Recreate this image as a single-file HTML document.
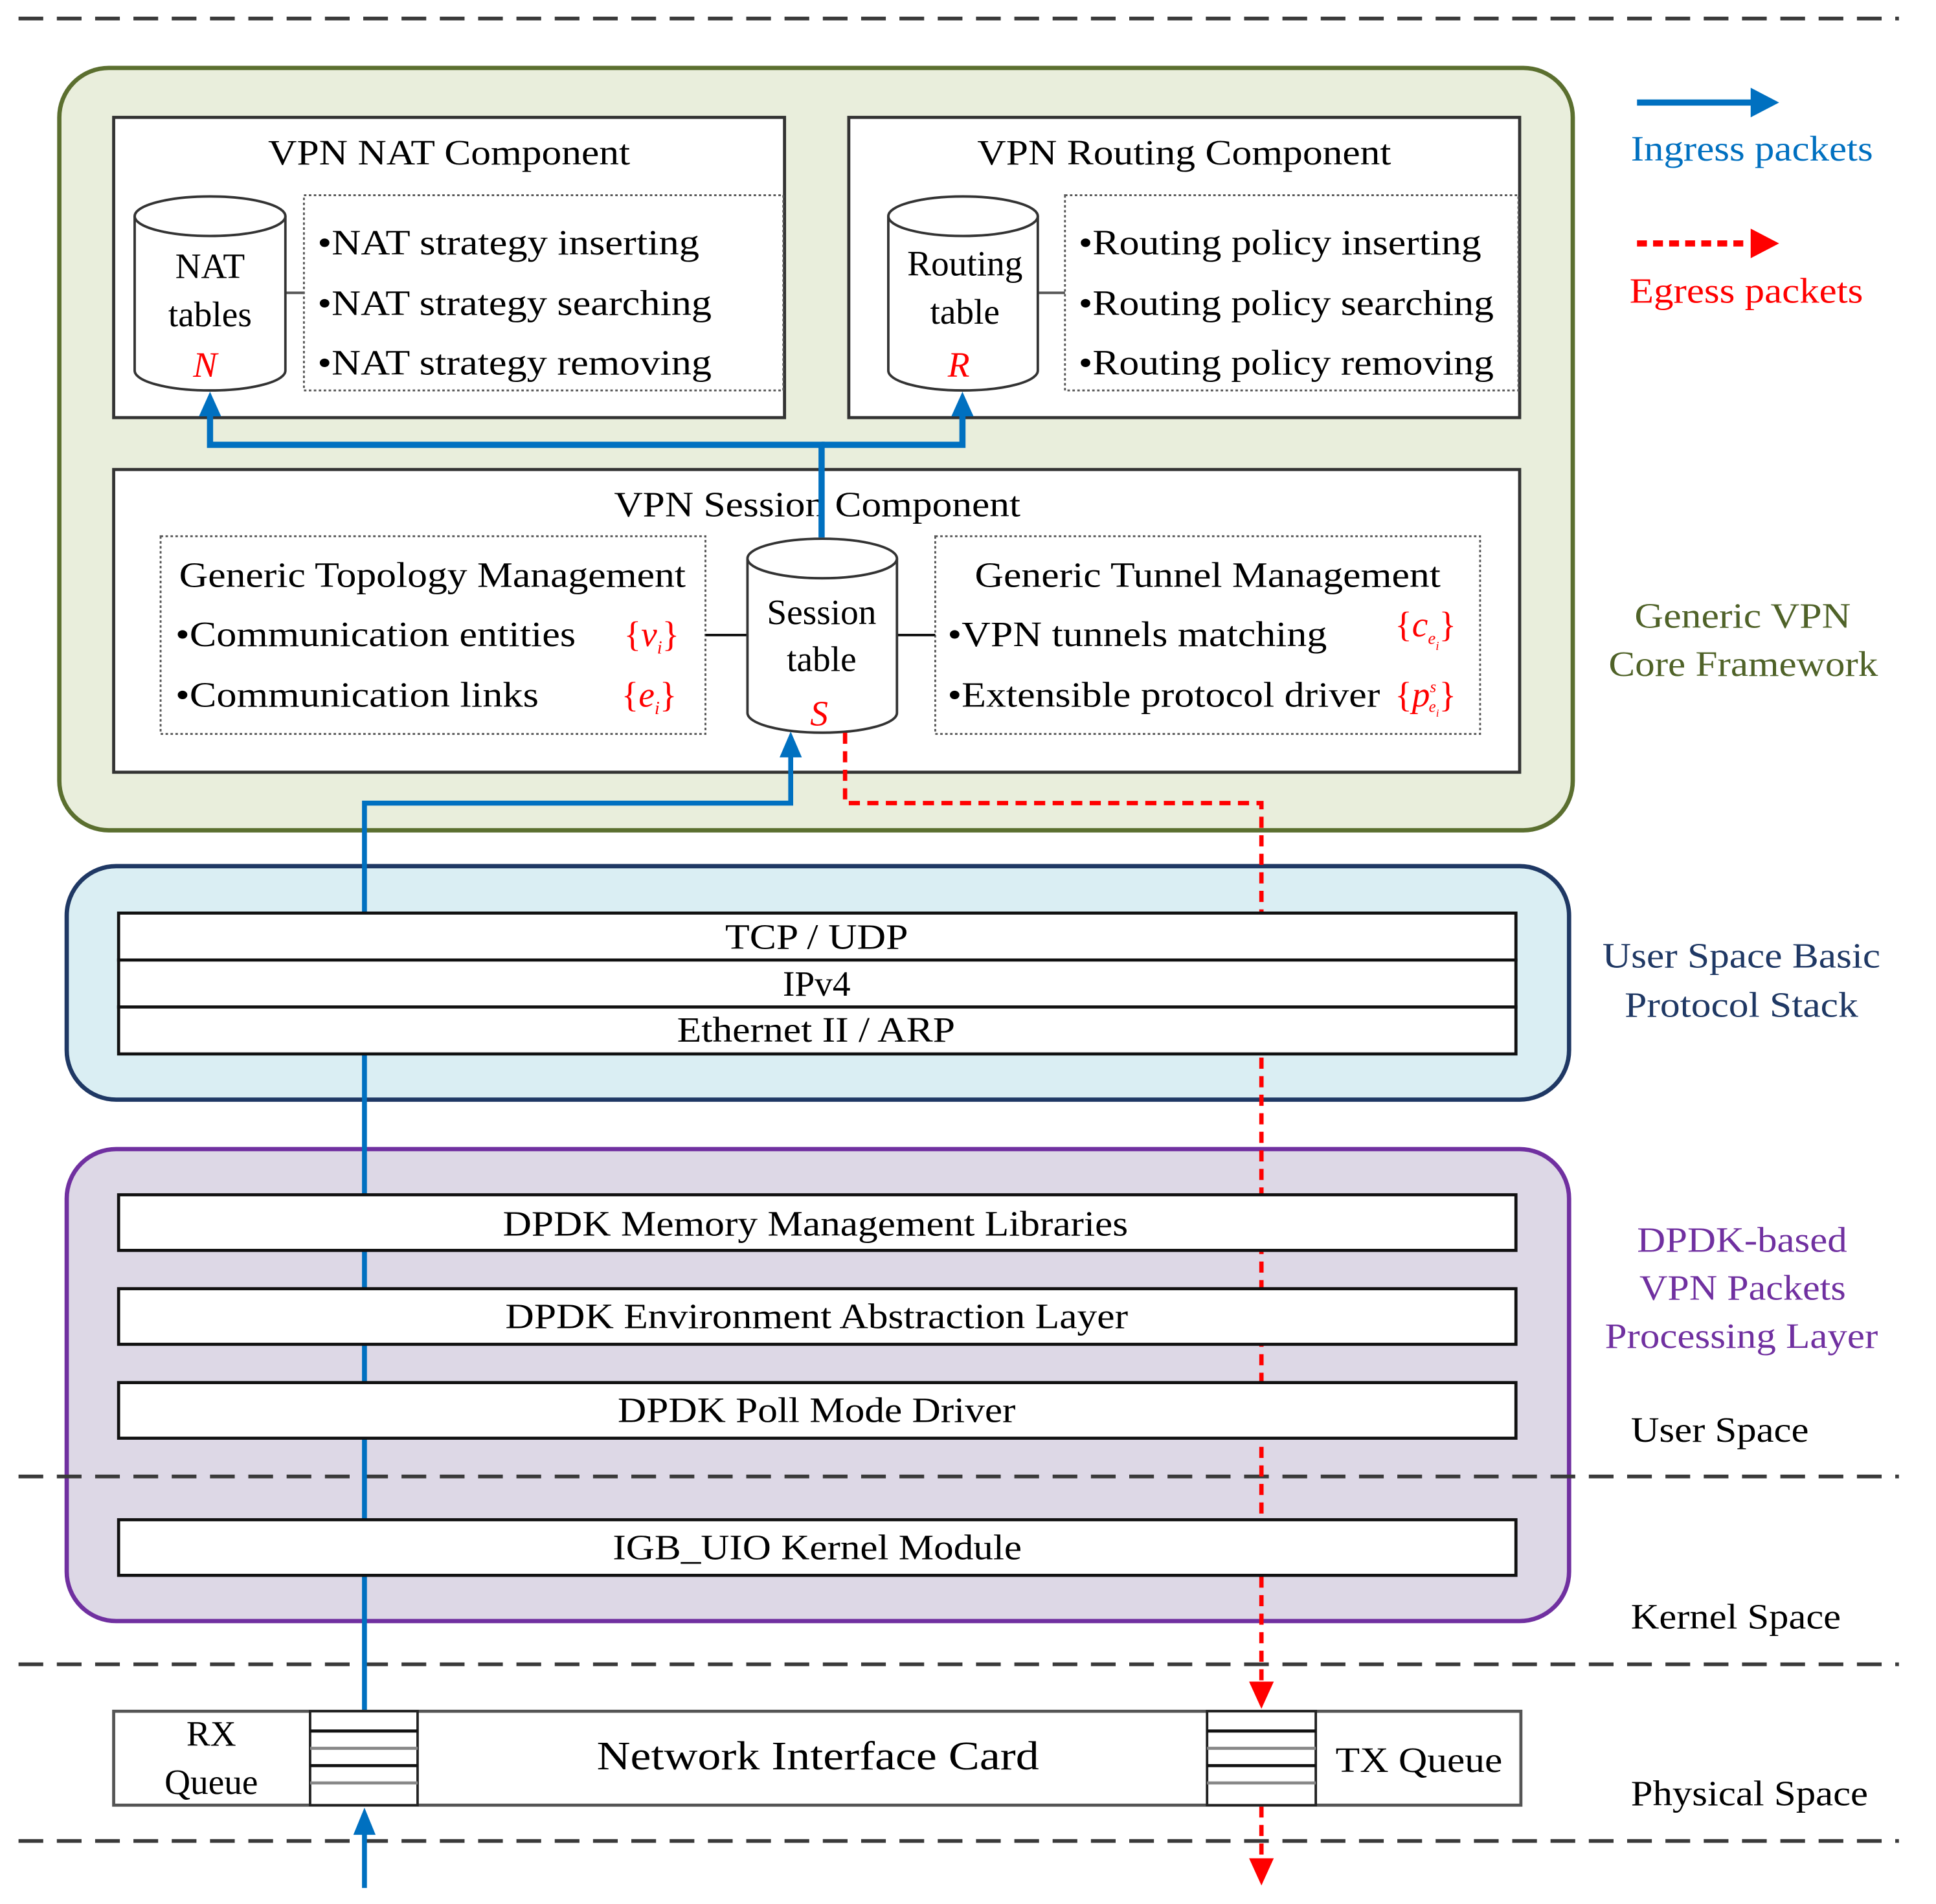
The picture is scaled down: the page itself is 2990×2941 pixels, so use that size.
<!DOCTYPE html>
<html><head><meta charset="utf-8"><style>
html,body{margin:0;padding:0;background:#fff}
svg{display:block}
text{font-family:"Liberation Serif","DejaVu Serif",serif;font-size:29px;fill:#000}
.c{text-anchor:middle}
.r{fill:#ff0000;font-style:italic}
</style></head><body>
<svg width="2990" height="2941" viewBox="0 0 1567 1541" preserveAspectRatio="none" xmlns="http://www.w3.org/2000/svg">
<!-- dashed separators -->
<g stroke="#3a3a3a" stroke-width="3" stroke-dasharray="20,11">
<line x1="15" y1="15" x2="1537" y2="15"/>
<line x1="15" y1="1347" x2="1537" y2="1347"/>
<line x1="15" y1="1490" x2="1537" y2="1490"/>
</g>
<!-- green frame -->
<rect x="48" y="55" width="1225" height="617" rx="40" fill="#e9eedc" stroke="#5b6f2f" stroke-width="3.5"/>
<!-- NAT component -->
<rect x="92" y="95" width="543" height="243" fill="#fff" stroke="#333" stroke-width="2.5"/>
<text x="217" y="133" textLength="293" lengthAdjust="spacingAndGlyphs">VPN NAT Component</text>
<rect x="246" y="158" width="388" height="158" fill="none" stroke="#555" stroke-width="1.5" stroke-dasharray="2,2"/>
<line x1="231" y1="237" x2="246" y2="237" stroke="#555" stroke-width="2"/>
<path d="M109,175 L109,300 A61,16 0 0 0 231,300 L231,175" fill="#fff" stroke="#333" stroke-width="2"/>
<ellipse cx="170" cy="175" rx="61" ry="16" fill="#fff" stroke="#333" stroke-width="2"/>
<text class="c" x="170" y="225">NAT</text>
<text class="c" x="170" y="264">tables</text>
<text class="c r" x="166" y="305">N</text>
<text x="257" y="206" textLength="309" lengthAdjust="spacingAndGlyphs">•NAT strategy inserting</text>
<text x="257" y="255" textLength="319" lengthAdjust="spacingAndGlyphs">•NAT strategy searching</text>
<text x="257" y="303" textLength="319" lengthAdjust="spacingAndGlyphs">•NAT strategy removing</text>
<!-- Routing component -->
<rect x="687" y="95" width="543" height="243" fill="#fff" stroke="#333" stroke-width="2.5"/>
<text x="791" y="133" textLength="335" lengthAdjust="spacingAndGlyphs">VPN Routing Component</text>
<rect x="862" y="158" width="367" height="158" fill="none" stroke="#555" stroke-width="1.5" stroke-dasharray="2,2"/>
<line x1="840" y1="237" x2="862" y2="237" stroke="#555" stroke-width="2"/>
<path d="M719,175 L719,300 A60.5,16 0 0 0 840,300 L840,175" fill="#fff" stroke="#333" stroke-width="2"/>
<ellipse cx="779.5" cy="175" rx="60.5" ry="16" fill="#fff" stroke="#333" stroke-width="2"/>
<text class="c" x="781" y="223">Routing</text>
<text class="c" x="781" y="262">table</text>
<text class="c r" x="776" y="305">R</text>
<text x="873" y="206" textLength="326" lengthAdjust="spacingAndGlyphs">•Routing policy inserting</text>
<text x="873" y="255" textLength="336" lengthAdjust="spacingAndGlyphs">•Routing policy searching</text>
<text x="873" y="303" textLength="336" lengthAdjust="spacingAndGlyphs">•Routing policy removing</text>
<!-- Session component -->
<rect x="92" y="380" width="1138" height="245" fill="#fff" stroke="#333" stroke-width="2.5"/>
<text x="497" y="418" textLength="329" lengthAdjust="spacingAndGlyphs">VPN Session Component</text>
<rect x="130" y="434" width="441" height="160" fill="none" stroke="#555" stroke-width="1.5" stroke-dasharray="2,2"/>
<rect x="757" y="434" width="441" height="160" fill="none" stroke="#555" stroke-width="1.5" stroke-dasharray="2,2"/>
<line x1="571" y1="514" x2="605" y2="514" stroke="#111" stroke-width="2"/>
<line x1="726" y1="514" x2="757" y2="514" stroke="#111" stroke-width="2"/>
<text x="145" y="475" textLength="410" lengthAdjust="spacingAndGlyphs">Generic Topology Management</text>
<text x="142" y="523" textLength="324" lengthAdjust="spacingAndGlyphs">•Communication entities</text>
<text x="142" y="572" textLength="294" lengthAdjust="spacingAndGlyphs">•Communication links</text>
<text x="505" y="523" style="fill:#f00">{<tspan font-style="italic">v</tspan><tspan font-size="15" dy="6" font-style="italic">i</tspan><tspan dy="-6">}</tspan></text>
<text x="503" y="572" style="fill:#f00">{<tspan font-style="italic">e</tspan><tspan font-size="15" dy="6" font-style="italic">i</tspan><tspan dy="-6">}</tspan></text>
<text x="789" y="475" textLength="377" lengthAdjust="spacingAndGlyphs">Generic Tunnel Management</text>
<text x="767" y="523" textLength="307" lengthAdjust="spacingAndGlyphs">•VPN tunnels matching</text>
<text x="767" y="572" textLength="350" lengthAdjust="spacingAndGlyphs">•Extensible protocol driver</text>
<text x="1129" y="515" style="fill:#f00">{<tspan font-style="italic">c</tspan><tspan font-size="14" dy="6" font-style="italic">e</tspan><tspan font-size="10" dy="5" font-style="italic">i</tspan><tspan dy="-11">}</tspan></text>
<text x="1129" y="572" style="fill:#f00">{<tspan font-style="italic">p</tspan><tspan font-size="13" dy="-12" font-style="italic">s</tspan><tspan font-size="13" dy="16" dx="-6" font-style="italic">e</tspan><tspan font-size="9" dy="4" font-style="italic">i</tspan><tspan dy="-8">}</tspan></text>
<path d="M605,452 L605,577 A60.5,16 0 0 0 726,577 L726,452" fill="#fff" stroke="#333" stroke-width="2"/>
<ellipse cx="665.5" cy="452" rx="60.5" ry="16" fill="#fff" stroke="#333" stroke-width="2"/>
<text class="c" x="665" y="505">Session</text>
<text class="c" x="665" y="543">table</text>
<text class="c r" x="663" y="587">S</text>
<!-- blue connectors top -->
<g stroke="#0070c0" stroke-width="5" fill="none">
<polyline points="665,435 665,360 170,360 170,334"/>
<polyline points="665,360 779,360 779,334"/>
</g>
<polygon points="170,317 161,337 179,337" fill="#0070c0"/>
<polygon points="779,317 770,337 788,337" fill="#0070c0"/>
<!-- blue box -->
<rect x="54" y="701" width="1216" height="189" rx="40" fill="#daeef3" stroke="#1f3864" stroke-width="3.5"/>
<!-- purple box -->
<rect x="54" y="930" width="1216" height="382" rx="40" fill="#ddd8e6" stroke="#7030a0" stroke-width="3.5"/>
<line x1="15" y1="1195" x2="1537" y2="1195" stroke="#3a3a3a" stroke-width="3" stroke-dasharray="20,11"/>
<!-- blue ingress line -->
<polyline points="295,1387 295,650 640,650 640,608" stroke="#0070c0" stroke-width="4" fill="none"/>
<polygon points="640,592 631,613 649,613" fill="#0070c0"/>
<line x1="295" y1="1528" x2="295" y2="1480" stroke="#0070c0" stroke-width="4"/>
<polygon points="295,1463 286,1485 304,1485" fill="#0070c0"/>
<!-- red egress -->
<polyline points="684,593 684,650 1021,650 1021,1362" stroke="#f00" stroke-width="3.5" fill="none" stroke-dasharray="9,6"/>
<polygon points="1021,1383 1011,1361 1031,1361" fill="#f00"/>
<line x1="1021" y1="1462" x2="1021" y2="1505" stroke="#f00" stroke-width="3.5" stroke-dasharray="9,6"/>
<polygon points="1021,1526 1011,1504 1031,1504" fill="#f00"/>
<!-- stack rows -->
<g fill="#fff" stroke="#111" stroke-width="2.5">
<rect x="96" y="739" width="1131" height="38"/>
<rect x="96" y="777" width="1131" height="38"/>
<rect x="96" y="815" width="1131" height="38"/>
<rect x="96" y="967" width="1131" height="45"/>
<rect x="96" y="1043" width="1131" height="45"/>
<rect x="96" y="1119" width="1131" height="45"/>
<rect x="96" y="1230" width="1131" height="45"/>
</g>
<text x="587" y="768" textLength="148" lengthAdjust="spacingAndGlyphs">TCP / UDP</text>
<text class="c" x="661" y="806">IPv4</text>
<text x="548" y="843" textLength="225" lengthAdjust="spacingAndGlyphs">Ethernet II / ARP</text>
<text x="407" y="1000" textLength="506" lengthAdjust="spacingAndGlyphs">DPDK Memory Management Libraries</text>
<text x="409" y="1075" textLength="504" lengthAdjust="spacingAndGlyphs">DPDK Environment Abstraction Layer</text>
<text x="500" y="1151" textLength="322" lengthAdjust="spacingAndGlyphs">DPDK Poll Mode Driver</text>
<text x="496" y="1262" textLength="331" lengthAdjust="spacingAndGlyphs">IGB_UIO Kernel Module</text>
<!-- NIC -->
<rect x="92" y="1385" width="1139" height="76" fill="#fff" stroke="#555" stroke-width="2.5"/>
<g fill="#fff" stroke="#222" stroke-width="2">
<rect x="251" y="1385" width="87" height="76"/>
<rect x="977" y="1385" width="88" height="76"/>
</g>
<g stroke-width="2.5">
<line x1="251" y1="1401" x2="338" y2="1401" stroke="#111"/>
<line x1="251" y1="1415" x2="338" y2="1415" stroke="#888"/>
<line x1="251" y1="1429" x2="338" y2="1429" stroke="#111"/>
<line x1="251" y1="1443" x2="338" y2="1443" stroke="#888"/>
<line x1="977" y1="1401" x2="1065" y2="1401" stroke="#111"/>
<line x1="977" y1="1415" x2="1065" y2="1415" stroke="#888"/>
<line x1="977" y1="1429" x2="1065" y2="1429" stroke="#111"/>
<line x1="977" y1="1443" x2="1065" y2="1443" stroke="#888"/>
</g>
<text class="c" x="171" y="1413">RX</text>
<text class="c" x="171" y="1452">Queue</text>
<text x="483" y="1432" style="font-size:33px" textLength="358" lengthAdjust="spacingAndGlyphs">Network Interface Card</text>
<text x="1081" y="1434" textLength="135" lengthAdjust="spacingAndGlyphs">TX Queue</text>
<!-- legend -->
<line x1="1325" y1="83" x2="1420" y2="83" stroke="#0070c0" stroke-width="5"/>
<polygon points="1440,83 1417,71 1417,95" fill="#0070c0"/>
<text x="1320" y="130" style="fill:#0070c0" textLength="196" lengthAdjust="spacingAndGlyphs">Ingress packets</text>
<line x1="1325" y1="197" x2="1415" y2="197" stroke="#f00" stroke-width="5" stroke-dasharray="8,5"/>
<polygon points="1440,197 1417,185 1417,209" fill="#f00"/>
<text x="1319" y="245" style="fill:#f00" textLength="189" lengthAdjust="spacingAndGlyphs">Egress packets</text>
<text x="1323" y="508" style="fill:#4f6228" textLength="175" lengthAdjust="spacingAndGlyphs">Generic VPN</text>
<text x="1302" y="547" style="fill:#4f6228" textLength="218" lengthAdjust="spacingAndGlyphs">Core Framework</text>
<text x="1297" y="783" style="fill:#1f3864" textLength="225" lengthAdjust="spacingAndGlyphs">User Space Basic</text>
<text x="1315" y="823" style="fill:#1f3864" textLength="189" lengthAdjust="spacingAndGlyphs">Protocol Stack</text>
<text x="1325" y="1013" style="fill:#7030a0" textLength="170" lengthAdjust="spacingAndGlyphs">DPDK-based</text>
<text x="1327" y="1052" style="fill:#7030a0" textLength="167" lengthAdjust="spacingAndGlyphs">VPN Packets</text>
<text x="1299" y="1091" style="fill:#7030a0" textLength="221" lengthAdjust="spacingAndGlyphs">Processing Layer</text>
<text x="1320" y="1167" textLength="144" lengthAdjust="spacingAndGlyphs">User Space</text>
<text x="1320" y="1318" textLength="170" lengthAdjust="spacingAndGlyphs">Kernel Space</text>
<text x="1320" y="1461" textLength="192" lengthAdjust="spacingAndGlyphs">Physical Space</text>
</svg>
</body></html>
